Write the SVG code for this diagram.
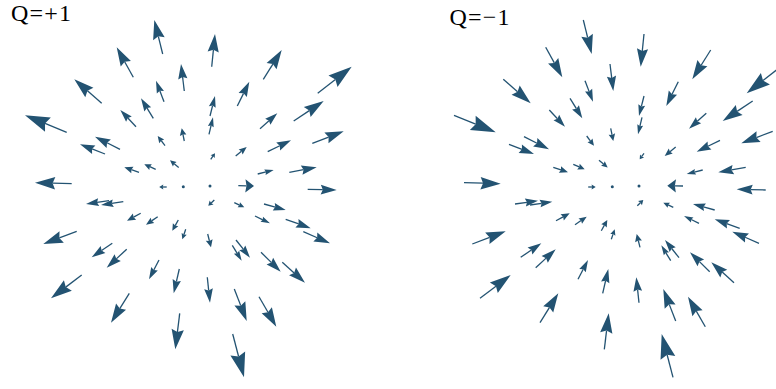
<svg xmlns="http://www.w3.org/2000/svg" xmlns:xlink="http://www.w3.org/1999/xlink" width="776" height="389" viewBox="0 0 776 389">
<style>
.lbl{font-family:"Liberation Serif","Times New Roman",serif;font-size:24px;letter-spacing:1.2px;fill:#000}
.dot{fill:#235372}
</style>
<defs>
<g id="A">
<line x1="0" y1="0" x2="0.52" y2="0" stroke="#235372" stroke-width="1.3" vector-effect="non-scaling-stroke"/>
<path d="M1,0 L0.45,-0.17 L0.52,0 L0.45,0.17Z" fill="#235372" stroke="none"/>
</g>
</defs>
<rect width="776" height="389" fill="#fff"/>
<text class="lbl" x="11" y="20.5">Q=+1</text>
<text class="lbl" x="449.5" y="25">Q=−1</text>
<g id="plot-left">
<use href="#A" transform="matrix(-8.4 -34 34 -8.4 162.7 54)"/>
<use href="#A" transform="matrix(-16.6 -30 30 -16.6 133.3 77.3)"/>
<use href="#A" transform="matrix(-3.3 -27 27 -3.3 184.3 91)"/>
<use href="#A" transform="matrix(-27.4 -24 24 -27.4 101.7 103.3)"/>
<use href="#A" transform="matrix(-8 -21 21 -8 164 101.7)"/>
<use href="#A" transform="matrix(-12.3 -20 20 -12.3 153.3 118.3)"/>
<use href="#A" transform="matrix(-15.7 -16.7 16.7 -15.7 136 126.7)"/>
<use href="#A" transform="matrix(-41.7 -17 17 -41.7 66.7 132.3)"/>
<use href="#A" transform="matrix(-2.6 -12.7 19.05 -3.9 184.3 141)"/>
<use href="#A" transform="matrix(-7.3 -9.7 14.55 -10.95 165 145.7)"/>
<use href="#A" transform="matrix(-25 -12.6 12.6 -25 120 149.3)"/>
<use href="#A" transform="matrix(-25 -9.7 9.7 -25 105 154)"/>
<use href="#A" transform="matrix(-8.7 -7.2 10.8 -13.05 178.7 167.5)"/>
<use href="#A" transform="matrix(-14.7 -5 6.5 -19.1 139 172.3)"/>
<use href="#A" transform="matrix(-11.4 -5 7.5 -17.1 155.7 169.3)"/>
<use href="#A" transform="matrix(-36.7 -1 1 -36.7 71.7 183.7)"/>
<use href="#A" transform="matrix(-7.5 0 0 -15 166.7 187)"/>
<use href="#A" transform="matrix(3.3 -32.7 32.7 3.3 211.7 66.7)"/>
<use href="#A" transform="matrix(18.4 -29.3 29.3 18.4 263.3 79.3)"/>
<use href="#A" transform="matrix(34 -26.6 26.6 34 317.7 93.3)"/>
<use href="#A" transform="matrix(12 -24.3 24.3 12 237.3 106)"/>
<use href="#A" transform="matrix(5 -20 20 5 210 116)"/>
<use href="#A" transform="matrix(30 -20 20 30 293.7 121)"/>
<use href="#A" transform="matrix(17.3 -15.4 15.4 17.3 260 128.7)"/>
<use href="#A" transform="matrix(4 -17 17 4 209 134.3)"/>
<use href="#A" transform="matrix(31.4 -12 12 31.4 312.3 143.3)"/>
<use href="#A" transform="matrix(23.3 -11.4 11.4 23.3 267.7 151.7)"/>
<use href="#A" transform="matrix(11 -9 11.7 14.3 235.7 156)"/>
<use href="#A" transform="matrix(4.3 -6 12 8.6 210.7 159.3)"/>
<use href="#A" transform="matrix(16 -4 4 16 257.7 174)"/>
<use href="#A" transform="matrix(27.4 -5 5 27.4 289.3 172.3)"/>
<use href="#A" transform="matrix(15.7 0.3 -0.75 39 238.3 185.7)"/>
<use href="#A" transform="matrix(29 0.7 -0.7 29 307.7 189.3)"/>
<use href="#A" transform="matrix(-23 3.3 -3.3 -23 109 200.7)"/>
<use href="#A" transform="matrix(-22.3 3.3 -3.3 -22.3 123.3 201.7)"/>
<use href="#A" transform="matrix(-13.7 7.4 -9.6 -17.8 140.7 213.3)"/>
<use href="#A" transform="matrix(-11.7 8 -10.4 -15.2 157.7 216.7)"/>
<use href="#A" transform="matrix(-6 10.7 -16.05 -9 178.3 220)"/>
<use href="#A" transform="matrix(-3.4 10 -15 -5.1 185.7 229.3)"/>
<use href="#A" transform="matrix(-33.4 12.7 -12.7 -33.4 76.7 231.3)"/>
<use href="#A" transform="matrix(-20.6 14 -14 -20.6 112.3 243.3)"/>
<use href="#A" transform="matrix(-20 18.4 -18.4 -20 126.7 249.3)"/>
<use href="#A" transform="matrix(-10 19.3 -19.3 -10 159 260)"/>
<use href="#A" transform="matrix(-5.6 24.3 -24.3 -5.6 179.3 269)"/>
<use href="#A" transform="matrix(-30.7 23.3 -23.3 -30.7 81.7 275)"/>
<use href="#A" transform="matrix(-18.3 29.4 -29.4 -18.3 129.3 293.3)"/>
<use href="#A" transform="matrix(-4.4 36 -36 -4.4 179.7 313.3)"/>
<use href="#A" transform="matrix(-6 5.7 -11.4 -12 214.3 200)"/>
<use href="#A" transform="matrix(10 4.6 -6.9 15 234.3 202.7)"/>
<use href="#A" transform="matrix(21.7 6 -6 21.7 264 204)"/>
<use href="#A" transform="matrix(15 7.3 -7.3 15 255 216)"/>
<use href="#A" transform="matrix(25 9 -9 25 285.7 219.3)"/>
<use href="#A" transform="matrix(26.7 11.6 -11.6 26.7 303.3 231.7)"/>
<use href="#A" transform="matrix(3.3 13.3 -19.95 4.95 207.7 234)"/>
<use href="#A" transform="matrix(14 17.7 -17.7 14 236 240)"/>
<use href="#A" transform="matrix(9.4 15.4 -15.4 9.4 232.3 245.3)"/>
<use href="#A" transform="matrix(19.7 19.4 -19.4 19.7 261 252.3)"/>
<use href="#A" transform="matrix(22.7 20.4 -20.4 22.7 282.3 262.3)"/>
<use href="#A" transform="matrix(2.7 25.4 -25.4 2.7 207.3 277.3)"/>
<use href="#A" transform="matrix(12.4 32 -32 12.4 234.3 289)"/>
<use href="#A" transform="matrix(17.3 30 -30 17.3 259 296.7)"/>
<use href="#A" transform="matrix(11.3 43.3 -43.3 11.3 232.7 334)"/>
<circle class="dot" cx="183.3" cy="186.7" r="1.5"/>
<circle class="dot" cx="210" cy="186" r="1.5"/>
</g>
<g id="plot-right" transform="translate(429,0)">
<use href="#A" transform="matrix(8.4 34 -34 8.4 154.3 20)"/>
<use href="#A" transform="matrix(16.6 30 -30 16.6 116.7 47.3)"/>
<use href="#A" transform="matrix(3.3 27 -27 3.3 181 64)"/>
<use href="#A" transform="matrix(27.4 24 -24 27.4 74.3 79.3)"/>
<use href="#A" transform="matrix(8 21 -21 8 156 80.7)"/>
<use href="#A" transform="matrix(12.3 20 -20 12.3 141 98.3)"/>
<use href="#A" transform="matrix(15.7 16.7 -16.7 15.7 120.3 110)"/>
<use href="#A" transform="matrix(41.7 17 -17 41.7 25 115.3)"/>
<use href="#A" transform="matrix(2.6 12.7 -19.05 3.9 181.7 128.3)"/>
<use href="#A" transform="matrix(7.3 9.7 -14.55 10.95 157.7 136)"/>
<use href="#A" transform="matrix(25 12.6 -12.6 25 95 136.7)"/>
<use href="#A" transform="matrix(25 9.7 -9.7 25 80 144.3)"/>
<use href="#A" transform="matrix(8.7 7.2 -10.8 13.05 170 160.3)"/>
<use href="#A" transform="matrix(14.7 5 -6.5 19.1 124.3 167.3)"/>
<use href="#A" transform="matrix(11.4 5 -7.5 17.1 144.3 164.3)"/>
<use href="#A" transform="matrix(36.7 1 -1 36.7 35 182.7)"/>
<use href="#A" transform="matrix(7.5 0 0 15 159.2 187)"/>
<use href="#A" transform="matrix(-3.3 32.7 -32.7 -3.3 215 34)"/>
<use href="#A" transform="matrix(-18.4 29.3 -29.3 -18.4 281.7 50)"/>
<use href="#A" transform="matrix(-34 26.6 -26.6 -34 351.7 66.7)"/>
<use href="#A" transform="matrix(-12 24.3 -24.3 -12 249.3 81.7)"/>
<use href="#A" transform="matrix(-5 20 -20 -5 215 96)"/>
<use href="#A" transform="matrix(-30 20 -20 -30 323.7 101)"/>
<use href="#A" transform="matrix(-17.3 15.4 -15.4 -17.3 277.3 113.3)"/>
<use href="#A" transform="matrix(-4 17 -17 -4 213 117.3)"/>
<use href="#A" transform="matrix(-31.4 12 -12 -31.4 343.7 131.3)"/>
<use href="#A" transform="matrix(-23.3 11.4 -11.4 -23.3 291 140.3)"/>
<use href="#A" transform="matrix(-11 9 -11.7 -14.3 246.7 147)"/>
<use href="#A" transform="matrix(-4.3 6 -12 -8.6 215 153.3)"/>
<use href="#A" transform="matrix(-16 4 -4 -16 273.7 170)"/>
<use href="#A" transform="matrix(-27.4 5 -5 -27.4 316.7 167.3)"/>
<use href="#A" transform="matrix(-15.7 -0.3 0.75 -39 254 186)"/>
<use href="#A" transform="matrix(-29 -0.7 0.7 -29 336.7 190)"/>
<use href="#A" transform="matrix(23 -3.3 3.3 23 86 204)"/>
<use href="#A" transform="matrix(22.3 -3.3 3.3 22.3 101 205)"/>
<use href="#A" transform="matrix(13.7 -7.4 9.6 17.8 127 220.7)"/>
<use href="#A" transform="matrix(11.7 -8 10.4 15.2 146 224.7)"/>
<use href="#A" transform="matrix(6 -10.7 16.05 9 172.3 230.7)"/>
<use href="#A" transform="matrix(3.4 -10 15 5.1 182.3 239.3)"/>
<use href="#A" transform="matrix(33.4 -12.7 12.7 33.4 43.3 244)"/>
<use href="#A" transform="matrix(20.6 -14 14 20.6 91.7 257.3)"/>
<use href="#A" transform="matrix(20 -18.4 18.4 20 106.7 267.7)"/>
<use href="#A" transform="matrix(10 -19.3 19.3 10 149 279.3)"/>
<use href="#A" transform="matrix(5.6 -24.3 24.3 5.6 173.7 293.3)"/>
<use href="#A" transform="matrix(30.7 -23.3 23.3 30.7 51 298.3)"/>
<use href="#A" transform="matrix(18.3 -29.4 29.4 18.3 111 322.7)"/>
<use href="#A" transform="matrix(4.4 -36 36 4.4 175.3 349.3)"/>
<use href="#A" transform="matrix(6 -5.7 11.4 12 208.3 205.7)"/>
<use href="#A" transform="matrix(-10 -4.6 6.9 -15 244.3 207.3)"/>
<use href="#A" transform="matrix(-21.7 -6 6 -21.7 285.7 210)"/>
<use href="#A" transform="matrix(-15 -7.3 7.3 -15 270 223.3)"/>
<use href="#A" transform="matrix(-25 -9 9 -25 310.7 228.3)"/>
<use href="#A" transform="matrix(-26.7 -11.6 11.6 -26.7 330 243.3)"/>
<use href="#A" transform="matrix(-3.3 -13.3 19.95 -4.95 211 247.3)"/>
<use href="#A" transform="matrix(-14 -17.7 17.7 -14 250 257.7)"/>
<use href="#A" transform="matrix(-9.4 -15.4 15.4 -9.4 241.7 260.7)"/>
<use href="#A" transform="matrix(-19.7 -19.4 19.4 -19.7 280.7 271.7)"/>
<use href="#A" transform="matrix(-22.7 -20.4 20.4 -22.7 305 282.7)"/>
<use href="#A" transform="matrix(-2.7 -25.4 25.4 -2.7 210 302.7)"/>
<use href="#A" transform="matrix(-12.4 -32 32 -12.4 246.7 321)"/>
<use href="#A" transform="matrix(-17.3 -30 30 -17.3 276.3 326.7)"/>
<use href="#A" transform="matrix(-11.3 -43.3 43.3 -11.3 244 377.3)"/>
<circle class="dot" cx="183.3" cy="186.7" r="1.5"/>
<circle class="dot" cx="210" cy="186" r="1.5"/>
</g>
</svg>
